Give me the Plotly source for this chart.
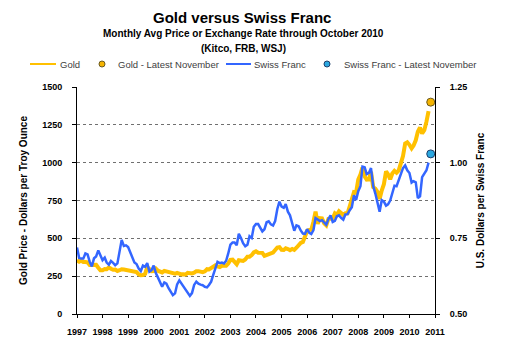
import pandas as pd
import plotly.graph_objects as go

months = pd.date_range("1997-01-01", "2010-10-01", freq="MS")

gold = [
    355, 346, 352, 344, 344, 341, 324, 324, 323, 325, 306, 289,
    289, 297, 296, 308, 299, 292, 293, 284, 289, 296, 294, 291,
    287, 287, 286, 282, 277, 262, 256, 257, 265, 311, 293, 283,
    284, 300, 286, 280, 275, 285, 282, 275, 273, 270, 266, 272,
    266, 262, 263, 261, 272, 270, 268, 273, 283, 283, 276, 276,
    282, 296, 294, 302, 314, 321, 314, 310, 319, 317, 319, 333,
    357, 359, 340, 329, 355, 356, 351, 360, 379, 379, 389, 407,
    414, 405, 406, 404, 384, 392, 398, 401, 406, 420, 439, 442,
    424, 423, 434, 429, 422, 430, 424, 438, 456, 470, 476, 510,
    550, 555, 557, 610, 676, 596, 633, 632, 599, 586, 628, 629,
    631, 665, 655, 679, 667, 655, 665, 665, 712, 754, 806, 803,
    889, 922, 968, 909, 888, 889, 939, 839, 829, 807, 760, 816,
    858, 943, 924, 890, 928, 946, 934, 949, 996, 1043, 1127, 1135,
    1118, 1095, 1113, 1148, 1205, 1232, 1193, 1215, 1271, 1340,
]

franc = [
    0.720, 0.685, 0.683, 0.683, 0.700, 0.697, 0.673, 0.657, 0.684, 0.690, 0.710, 0.694,
    0.678, 0.686, 0.670, 0.663, 0.675, 0.669, 0.661, 0.667, 0.709, 0.745, 0.725, 0.727,
    0.721, 0.701, 0.686, 0.670, 0.665, 0.650, 0.642, 0.660, 0.656, 0.668, 0.640, 0.645,
    0.660, 0.635, 0.621, 0.605, 0.590, 0.604, 0.600, 0.585, 0.573, 0.562, 0.568, 0.598,
    0.611, 0.600, 0.592, 0.583, 0.569, 0.560, 0.569, 0.596, 0.607, 0.600, 0.597, 0.595,
    0.590, 0.588, 0.596, 0.607, 0.629, 0.650, 0.672, 0.668, 0.670, 0.667, 0.676, 0.700,
    0.729, 0.736, 0.736, 0.727, 0.765, 0.751, 0.734, 0.724, 0.729, 0.757, 0.751, 0.788,
    0.797, 0.797, 0.783, 0.773, 0.780, 0.803, 0.806, 0.796, 0.792, 0.807, 0.847, 0.871,
    0.855, 0.851, 0.863, 0.838, 0.826, 0.798, 0.775, 0.793, 0.790, 0.776, 0.766, 0.765,
    0.780, 0.768, 0.764, 0.777, 0.817, 0.812, 0.807, 0.810, 0.803, 0.795, 0.814, 0.826,
    0.804, 0.808, 0.823, 0.826, 0.818, 0.812, 0.829, 0.830, 0.843, 0.853, 0.892, 0.877,
    0.906, 0.922, 0.987, 0.985, 0.962, 0.966, 0.982, 0.923, 0.898, 0.873, 0.838, 0.876,
    0.871, 0.858, 0.862, 0.875, 0.904, 0.924, 0.922, 0.940, 0.961, 0.982, 0.991, 0.975,
    0.966, 0.934, 0.939, 0.935, 0.883, 0.889, 0.952, 0.964, 0.975, 1.000,
]

latest_date = ["2010-11-01"]
gold_latest = [1400]
franc_latest = [1.029]

year_ticks = [f"{y}-01-01" for y in range(1997, 2012)]
year_labels = [str(y) for y in range(1997, 2012)]
gold_ticks = [0, 250, 500, 750, 1000, 1250, 1500]
franc_ticks = [0.50, 0.75, 1.00, 1.25]

title_text = "Gold versus Swiss Franc"
subtitle_lines = ["Monthly Avg Price or Exchange Rate through October 2010",
                  "(Kitco, FRB, WSJ)"]
legend_names = ["Gold", "Gold - Latest November", "Swiss Franc",
                "Swiss Franc - Latest November"]

GOLD_C = "#FFC000"
GOLD_DOT = "#F5B400"
BLUE_C = "#3366FF"
CYAN_DOT = "#2BA8E0"

# ---- layout geometry (page has an ~8px body offset) ----
OFF = 8
W, H = 507 - OFF, 363 - OFF
PL, PR, PT, PB = 77, 435, 87, 314          # desired screen plot box
ml, mr, mt, mb = PL - OFF, W - (PR - OFF), PT - OFF, H - (PB - OFF)
pw, ph = PR - PL, PB - PT


def px(sx):
    return (sx - PL) / pw


def py(sy):
    return (PB - sy) / ph


fig = go.Figure()
fig.add_trace(go.Scatter(x=months, y=gold, mode="lines", name=legend_names[0],
                         line=dict(color=GOLD_C, width=4)))
fig.add_trace(go.Scatter(x=latest_date, y=gold_latest, mode="markers",
                         name=legend_names[1],
                         marker=dict(color=GOLD_DOT, size=8,
                                     line=dict(color="#6b5a20", width=1))))
fig.add_trace(go.Scatter(x=months, y=franc, mode="lines", name=legend_names[2],
                         yaxis="y2", line=dict(color=BLUE_C, width=2.5)))
fig.add_trace(go.Scatter(x=latest_date, y=franc_latest, mode="markers",
                         name=legend_names[3], yaxis="y2",
                         marker=dict(color=CYAN_DOT, size=8,
                                     line=dict(color="#1f3f6b", width=1))))

FONT = "Arial, Liberation Sans, sans-serif"
tickfont = dict(family=FONT, size=9, color="#000000", weight="bold")

annotations = [
    dict(text=f"<b>{title_text}</b>", x=px(242), y=py(17), xref="paper", yref="paper",
         xanchor="center", yanchor="middle", showarrow=False,
         font=dict(size=15, color="#000000", family=FONT)),
    dict(text=f"<b>{subtitle_lines[0]}</b>", x=px(243), y=py(34), xref="paper",
         yref="paper", xanchor="center", yanchor="middle", showarrow=False,
         font=dict(size=10, color="#000000", family=FONT)),
    dict(text=f"<b>{subtitle_lines[1]}</b>", x=px(243), y=py(48), xref="paper",
         yref="paper", xanchor="center", yanchor="middle", showarrow=False,
         font=dict(size=10, color="#000000", family=FONT)),
]
leg_text_x = [58, 116, 252, 342]
for name, lx in zip(legend_names, leg_text_x):
    annotations.append(dict(text=name, x=px(lx), y=py(64), xref="paper", yref="paper",
                            xanchor="left", yanchor="middle", showarrow=False,
                            font=dict(size=9.5, color="#404040", family=FONT)))

shapes = [
    dict(type="line", xref="paper", yref="paper", x0=px(30), x1=px(56),
         y0=py(64), y1=py(64), line=dict(color=GOLD_C, width=2)),
    dict(type="line", xref="paper", yref="paper", x0=px(226), x1=px(251),
         y0=py(64), y1=py(64), line=dict(color=BLUE_C, width=2)),
    dict(type="circle", xref="paper", yref="paper", x0=px(99), x1=px(105),
         y0=py(67), y1=py(61), fillcolor=GOLD_DOT, line=dict(color="#6b5a20", width=1)),
    dict(type="circle", xref="paper", yref="paper", x0=px(324), x1=px(330),
         y0=py(67), y1=py(61), fillcolor=CYAN_DOT, line=dict(color="#1f3f6b", width=1)),
]

fig.update_layout(
    width=W, height=H,
    margin=dict(l=ml, r=mr, t=mt, b=mb, pad=0, autoexpand=False),
    paper_bgcolor="white", plot_bgcolor="white",
    font=dict(family=FONT, color="#000000"),
    showlegend=False,
    annotations=annotations,
    shapes=shapes,
    xaxis=dict(
        type="date", range=["1997-01-01", "2011-01-01"],
        tickmode="array", tickvals=year_ticks, ticktext=year_labels,
        ticks="outside", ticklen=3, tickcolor="#000000",
        showgrid=False, showline=True, linecolor="#000000", linewidth=1,
        tickfont=tickfont, zeroline=False, automargin=False,
        ticklabelstandoff=6,
    ),
    yaxis=dict(
        range=[0, 1500], tickmode="array", tickvals=gold_ticks,
        ticks="outside", ticklen=4, tickcolor="#000000",
        showline=True, linecolor="#000000", linewidth=1,
        showgrid=True, gridcolor="#707070", griddash="dot", gridwidth=1,
        zeroline=False, tickfont=tickfont, automargin=False,
        ticklabelstandoff=8,
        title=dict(text="<b>Gold Price - Dollars per Troy Ounce</b>",
                   font=dict(size=10), standoff=12),
    ),
    yaxis2=dict(
        range=[0.5, 1.25], overlaying="y", side="right",
        tickmode="array", tickvals=franc_ticks, tickformat=".2f",
        ticks="outside", ticklen=4, tickcolor="#000000",
        showline=True, linecolor="#000000", linewidth=1,
        showgrid=False, zeroline=False, tickfont=tickfont, automargin=False,
        ticklabelstandoff=8,
        title=dict(text="<b>U.S. Dollars per Swiss Franc</b>",
                   font=dict(size=10), standoff=10),
    ),
)

fig.write_html("out.html")
